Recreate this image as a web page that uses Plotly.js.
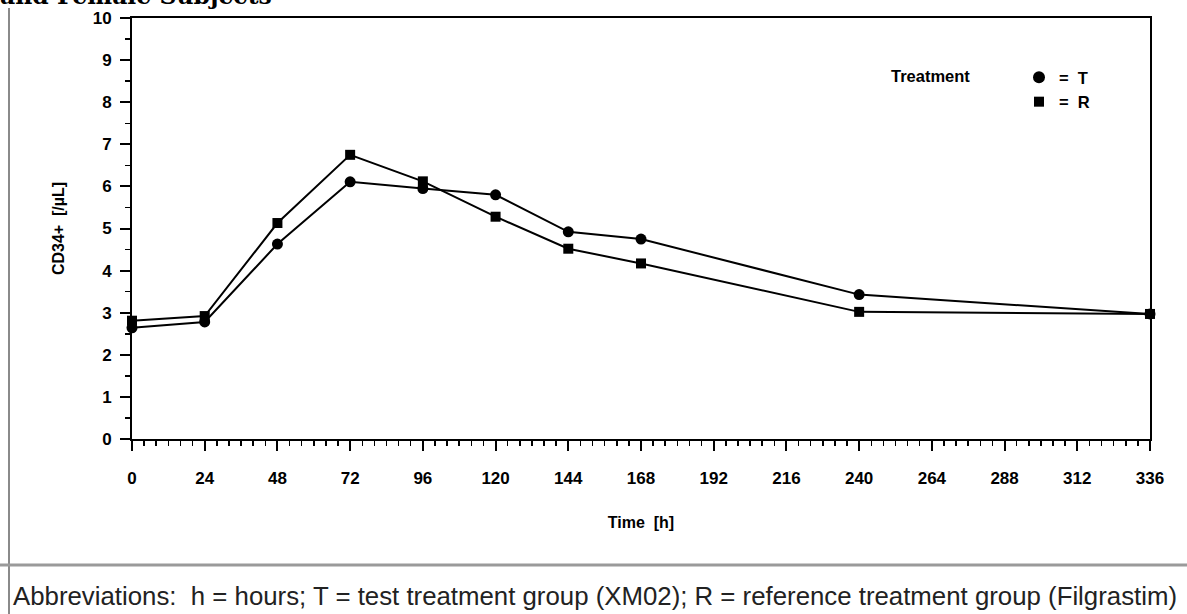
<!DOCTYPE html>
<html>
<head>
<meta charset="utf-8">
<script src="https://cdn.plot.ly/plotly-3.0.1.min.js"></script>
<style>
html,body{margin:0;padding:0;background:#fff;}
#chart{width:1187px;height:614px;}
</style>
</head>
<body>
<div id="chart"></div>
<script>
// ---- data ----
const timeHours = [0, 24, 48, 72, 96, 120, 144, 168, 240, 336];
const seriesT = [2.64, 2.78, 4.63, 6.11, 5.95, 5.80, 4.92, 4.75, 3.43, 2.97];
const seriesR = [2.81, 2.92, 5.13, 6.75, 6.12, 5.28, 4.52, 4.17, 3.02, 2.97];
const seriesNames = ["=  T", "=  R"];
const xTickVals = [0, 24, 48, 72, 96, 120, 144, 168, 192, 216, 240, 264, 288, 312, 336];
const yTickVals = [0, 1, 2, 3, 4, 5, 6, 7, 8, 9, 10];

// ---- layout geometry (pixels) ----
const FW = 1187, FH = 614;
const M = {l: 132, r: 37, t: 18, b: 175};
const PW = FW - M.l - M.r, PH = FH - M.t - M.b;
const px = x => (x - M.l) / PW;          // pixel x -> paper x
const py = y => (FH - M.b - y) / PH;     // pixel y -> paper y

const tickFont = {family: "Liberation Sans, Arial, sans-serif", size: 17, color: "#000", weight: "bold"};
const titleFont = {family: "Liberation Sans, Arial, sans-serif", size: 16, color: "#000", weight: "bold"};
const legFont = {family: "Liberation Sans, Arial, sans-serif", size: 16.5, color: "#000", weight: "bold"};

const traces = [
  {x: timeHours, y: seriesT, type: "scatter", mode: "lines+markers", showlegend: false,
   line: {color: "#000", width: 2}, marker: {symbol: "circle", size: 11, color: "#000"}, cliponaxis: false},
  {x: timeHours, y: seriesR, type: "scatter", mode: "lines+markers", showlegend: false,
   line: {color: "#000", width: 2}, marker: {symbol: "square", size: 10, color: "#000"}, cliponaxis: false},
  {x: [null], y: [null], type: "scatter", mode: "markers", name: seriesNames[0], legendgroup: "a",
   marker: {symbol: "circle", size: 12, color: "#000"}},
  {x: [null], y: [null], type: "scatter", mode: "markers", name: seriesNames[1], legendgroup: "b",
   marker: {symbol: "square", size: 10, color: "#000"}}
];

const layout = {
  width: FW, height: FH,
  margin: M,
  paper_bgcolor: "#fff", plot_bgcolor: "#fff",
  showlegend: true,
  legend: {x: px(1019), xanchor: "left", y: py(60), yanchor: "top",
           font: legFont, bgcolor: "rgba(0,0,0,0)", tracegroupgap: 0, itemwidth: 30},
  xaxis: {
    range: [0, 336], tickvals: xTickVals, ticktext: xTickVals.map(String),
    showgrid: false, zeroline: false, showline: true, linecolor: "#000", linewidth: 2, mirror: true,
    ticks: "outside", ticklen: 10, tickwidth: 2, tickcolor: "#000",
    minor: {dtick: 4, tick0: 0, ticks: "outside", ticklen: 5, tickwidth: 1.5, tickcolor: "#000", showgrid: false},
    tickfont: tickFont, ticklabelstandoff: 13,
    title: {text: "Time  [h]", font: titleFont, standoff: 29},
    fixedrange: true
  },
  yaxis: {
    range: [0, 10], tickvals: yTickVals, ticktext: yTickVals.map(String),
    showgrid: false, zeroline: false, showline: true, linecolor: "#000", linewidth: 2, mirror: true,
    ticks: "outside", ticklen: 10, tickwidth: 2, tickcolor: "#000",
    minor: {dtick: 0.5, tick0: 0, ticks: "outside", ticklen: 5, tickwidth: 1.5, tickcolor: "#000", showgrid: false},
    tickfont: tickFont, ticklabelstandoff: 5,
    title: {text: "CD34+  [/µL]", font: titleFont, standoff: 24},
    fixedrange: true
  },
  annotations: [
    {text: "and Female Subjects", xref: "paper", yref: "paper", x: px(-2), y: py(11.5),
     xanchor: "left", yanchor: "bottom", showarrow: false,
     font: {family: "DejaVu Serif, serif", size: 23.5, color: "#000", weight: "bold"}},
    {text: "Treatment", xref: "paper", yref: "paper", x: px(889), y: py(76),
     xanchor: "left", yanchor: "middle", showarrow: false, font: legFont},
    {text: "Abbreviations:  h = hours; T = test treatment group (XM02); R = reference treatment group (Filgrastim)",
     xref: "paper", yref: "paper", x: px(11), y: py(596), xanchor: "left", yanchor: "middle",
     showarrow: false, font: {family: "Liberation Sans, Arial, sans-serif", size: 25.8, color: "#222"}}
  ],
  shapes: [
    {type: "line", xref: "paper", yref: "paper", x0: px(9), x1: px(9), y0: py(8), y1: py(FH),
     line: {color: "#8a8a8a", width: 2}},
    {type: "line", xref: "paper", yref: "paper", x0: px(0), x1: px(FW), y0: py(565), y1: py(565),
     line: {color: "#9a9a9a", width: 3}}
  ]
};

Plotly.newPlot("chart", traces, layout, {staticPlot: true, displayModeBar: false});
</script>
</body>
</html>
